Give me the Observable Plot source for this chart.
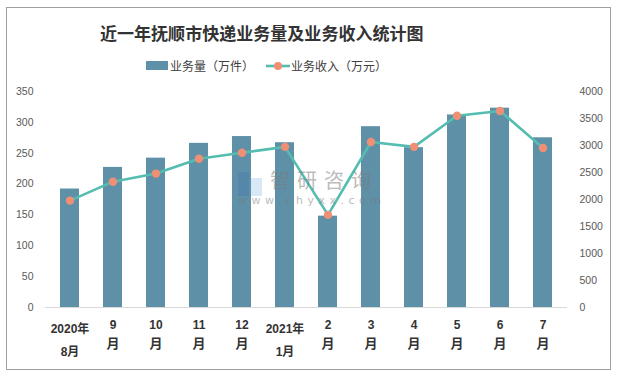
<!DOCTYPE html>
<html>
<head>
<meta charset="utf-8">
<script src="https://cdn.jsdelivr.net/npm/d3@7"></script>
<script src="https://cdn.jsdelivr.net/npm/@observablehq/plot@0.6"></script>
<style>
  html, body { margin: 0; padding: 0; background: #fff; }
  #wrap { position: relative; width: 617px; height: 376px; overflow: hidden; font-family: "Liberation Sans", "Noto Sans CJK SC", sans-serif; }
  #frame { position: absolute; left: 6px; top: 7px; width: 605px; height: 363px; box-sizing: border-box; border: 1px solid #a0a0a0; }
  #title { position: absolute; left: 100px; top: 20px; white-space: nowrap; font: bold 20px/26px "Noto Sans CJK SC", sans-serif; color: #333; }
  .leg { position: absolute; font: 12px/14px "Noto Sans CJK SC", sans-serif; color: #404040; white-space: nowrap; }
  #chart { position: absolute; left: 0; top: 0; }
  .wm { position: absolute; color: #7a7a7a; opacity: 0.5; white-space: nowrap; }
</style>
</head>
<body>
<div id="wrap">
  <div id="frame"></div>
  <div id="chart"></div>
  <div id="title">近一年抚顺市快递业务量及业务收入统计图</div>
  <div id="legend"></div>
  <div class="wm" style="left:238px;top:172px;width:11px;height:24px;background:#3f6fae;opacity:0.3"></div>
  <div class="wm" style="left:251px;top:178px;width:11px;height:18px;background:#7fb3e0;opacity:0.3"></div>
  <div class="wm" style="left:270px;top:170px;font:20px/20px 'Noto Sans CJK SC';letter-spacing:7px;">智研咨询</div>
  <div class="wm" style="left:238px;top:195px;font:11px/11px 'DejaVu Sans';letter-spacing:4.5px;">www.chyxx.com</div>
</div>
<script>
// ---- data ----
const months = ["2020年8月","9月","10月","11月","12月","2021年1月","2月","3月","4月","5月","6月","7月"];
const volume = [192, 227, 242, 266, 277, 267, 148, 293, 259, 312, 323, 275];       // 业务量（万件）
const revenue = [1980, 2330, 2480, 2755, 2865, 2975, 1715, 3065, 2975, 3550, 3640, 2955]; // 业务收入（万元）
const labelLine1 = ["2020年","9","10","11","12","2021年","2","3","4","5","6","7"];
const labelLine2 = ["8月","月","月","月","月","1月","月","月","月","月","月","月"];
const leftTicks = [0, 50, 100, 150, 200, 250, 300, 350];
const rightTicks = [0, 500, 1000, 1500, 2000, 2500, 3000, 3500, 4000];
const seriesNames = ["业务量（万件）", "业务收入（万元）"];

const leftMax = 350, rightMax = 4000;
const toLeft = v => v * leftMax / rightMax;

const barColor = "#5e91a7";
const lineColor = "#55bcb0";
const dotColor = "#ef8f75";

const data = months.map((m, i) => ({month: m, volume: volume[i], revenue: revenue[i], l1: labelLine1[i], l2: labelLine2[i], year: labelLine1[i].includes("年")}));
const yearRows = data.filter(d => d.year);
const monthRows = data.filter(d => !d.year);

const chart = Plot.plot({
  width: 617,
  height: 376,
  marginLeft: 45,
  marginRight: 50,
  marginTop: 91,
  marginBottom: 69,
  style: {background: "transparent", fontFamily: "Liberation Sans, Noto Sans CJK SC, sans-serif", fontSize: "10.5px", color: "#595959"},
  x: {domain: months, paddingInner: 0.556, paddingOuter: 0.278, axis: null},
  y: {domain: [0, leftMax]},
  marks: [
    Plot.axisY({ticks: leftTicks, tickSize: 0, tickPadding: 12, anchor: "left", label: null, fill: "#595959"}),
    Plot.axisY({ticks: rightTicks.map(toLeft), tickFormat: d => String(Math.round(d * rightMax / leftMax)), tickSize: 0, tickPadding: 12, anchor: "right", label: null, fill: "#595959", textAnchor: "start"}),
    Plot.ruleY([0], {stroke: "#d9d9d9", strokeWidth: 1}),
    Plot.barY(data, {x: "month", y: "volume", fill: barColor}),
    Plot.line(data, {x: "month", y: d => toLeft(d.revenue), stroke: lineColor, strokeWidth: 2.6}),
    Plot.dot(data, {x: "month", y: d => toLeft(d.revenue), r: 4.2, fill: dotColor, stroke: "none"}),
    Plot.text(yearRows, {x: "month", text: "l1", frameAnchor: "bottom", dy: 22, lineAnchor: "middle", fontWeight: "bold", fontSize: 12, fill: "#333"}),
    Plot.text(yearRows, {x: "month", text: "l2", frameAnchor: "bottom", dy: 44.5, lineAnchor: "middle", fontWeight: "bold", fontSize: 12, fill: "#333"}),
    Plot.text(monthRows, {x: "month", text: "l1", frameAnchor: "bottom", dy: 18, lineAnchor: "middle", fontWeight: "bold", fontSize: 12, fill: "#333"}),
    Plot.text(monthRows, {x: "month", text: "l2", frameAnchor: "bottom", dy: 36.5, lineAnchor: "middle", fontWeight: "bold", fontSize: 13, fill: "#333"})
  ]
});
document.getElementById("chart").appendChild(chart);

// legend
const legend = document.getElementById("legend");
legend.innerHTML = `
  <div style="position:absolute;left:146px;top:61px;width:22px;height:9px;background:${barColor}"></div>
  <div class="leg" style="left:170px;top:59px;">${seriesNames[0]}</div>
  <svg style="position:absolute;left:264px;top:60px" width="28" height="12"><line x1="2" y1="6" x2="26" y2="6" stroke="${lineColor}" stroke-width="2.6"/><circle cx="14" cy="6" r="4" fill="${dotColor}"/></svg>
  <div class="leg" style="left:291px;top:59px;">${seriesNames[1]}</div>
`;
// fit title to reference width (≈324px)
const t = document.getElementById("title");
const w = t.getBoundingClientRect().width;
if (w > 0) t.style.fontSize = (20 * 324 / w).toFixed(2) + "px";
</script>
</body>
</html>
